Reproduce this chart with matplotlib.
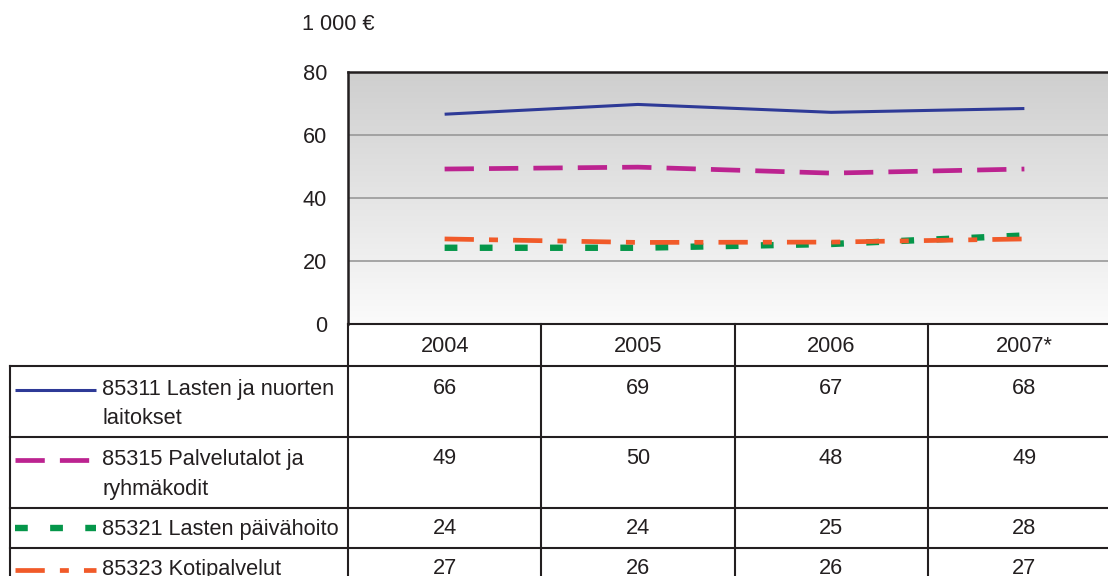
import numpy as np
import matplotlib
matplotlib.use("Agg")
import matplotlib.pyplot as plt
from matplotlib.lines import Line2D

# ---- data ----
years = ["2004", "2005", "2006", "2007*"]
series_names = ["85311 Lasten ja nuorten\nlaitokset",
                "85315 Palvelutalot ja\nryhmäkodit",
                "85321 Lasten päivähoito",
                "85323 Kotipalvelut"]
# plotted (unrounded)
lasten_laitokset = [66.6, 69.7, 67.2, 68.4]
palvelutalot = [49.2, 49.8, 47.9, 49.2]
paivahoito = [24.2, 24.2, 25.4, 28.1]
kotipalvelut = [27.0, 25.9, 26.0, 27.0]
# table values (rounded, as printed)
table_laitokset = [66, 69, 67, 68]
table_palvelutalot = [49, 50, 48, 49]
table_paivahoito = [24, 24, 25, 28]
table_kotipalvelut = [27, 26, 26, 27]
yticks = [0, 20, 40, 60, 80]
unit_label = "1 000 €"

plt.rcParams['font.family'] = ['Liberation Sans', 'DejaVu Sans']
FS = 15.7

W, H = 1108, 576
fig = plt.figure(figsize=(W / 100, H / 100), dpi=100)

# axes geometry in pixels
L, R, T, B = 348, 1121, 72, 324
ax = fig.add_axes([L / W, (H - B) / H, (R - L) / W, (B - T) / H])
x = np.arange(len(years))

# gradient background: light at bottom, grey at top
g = np.linspace(0, 1, 256).reshape(-1, 1, 1)  # 0 = bottom, 1 = top
top = np.array([0.81, 0.81, 0.81])
bot = np.array([0.985, 0.985, 0.985])
img = bot[None, None, :] * (1 - g) + top[None, None, :] * g
ax.imshow(img, extent=(-0.5, len(years) - 0.5, 0, 80), aspect='auto', zorder=0,
          origin='lower')
ax.set_xlim(-0.5, len(years) - 0.5)
ax.set_ylim(0, 80)

for yv in yticks[1:-1]:
    ax.axhline(yv, color='#999999', lw=1.2, zorder=1)

colors = ['#2E3A97', '#BC2390', '#05964A', '#F15A29']
styles = ['-', (0, (6.2, 3.2)), (0, (2.0, 3.5)), (0, (6.2, 3.2, 1.9, 3.2))]
widths = [2.2, 3.4, 4.6, 3.4]
data = [lasten_laitokset, palvelutalot, paivahoito, kotipalvelut]
for d, c, s, w in zip(data, colors, styles, widths):
    ax.plot(x, d, color=c, linestyle=s, lw=w, dash_capstyle='butt',
            solid_capstyle='butt', zorder=3)

ax.set_yticks(yticks)
ax.set_yticklabels([str(v) for v in yticks], fontsize=FS, color='#231f20')
ax.tick_params(axis='y', length=0, pad=15)
ax.set_xticks([])
for sp in ['left', 'top']:
    ax.spines[sp].set_linewidth(1.8)
    ax.spines[sp].set_color('#231f20')
ax.spines['right'].set_visible(False)
ax.spines['bottom'].set_visible(False)

fig.text(302 / W, 1 - 25 / H, unit_label, fontsize=FS, ha='left', va='center',
         color='#231f20')

# ---- table overlay in pixel coordinates ----
tab = fig.add_axes([0, 0, 1, 1], zorder=5)
tab.set_xlim(0, W)
tab.set_ylim(H, 0)
tab.axis('off')
lc = '#231f20'
lw_t = 1.5
col_w = (R - L) / len(years)
col_edges = [L + i * col_w for i in range(len(years) + 1)]
row_edges = [B, 366, 437, 508, 548, 600]

tab.plot([L, R], [B, B], color=lc, lw=lw_t)
for yv in row_edges[1:5]:
    tab.plot([10, R], [yv, yv], color=lc, lw=lw_t)
for xv in col_edges:
    tab.plot([xv, xv], [B, H], color=lc, lw=lw_t)
tab.plot([10, 10], [366, H], color=lc, lw=lw_t)

for i, yr in enumerate(years):
    tab.text(L + (i + 0.5) * col_w, 346, yr, fontsize=FS, ha='center', va='center',
             color=lc)

tables = [table_laitokset, table_palvelutalot, table_paivahoito, table_kotipalvelut]
val_y = [388, 459, 528, 568]
legend_y = [390, 460, 528, 570]
for r in range(4):
    for i in range(len(years)):
        tab.text(L + (i + 0.5) * col_w, val_y[r], str(tables[r][i]), fontsize=FS,
                 ha='center', va='center', color=lc)
    lines = series_names[r].split("\n")
    for k, t in enumerate(lines):
        tab.text(102, val_y[r] + 1 + 30 * k, t, fontsize=FS, ha='left', va='center',
                 color=lc)
    tab.add_line(Line2D([15, 96], [legend_y[r], legend_y[r]], color=colors[r],
                        linestyle=styles[r], lw=widths[r], dash_capstyle='butt',
                        solid_capstyle='butt'))

fig.savefig("out.png", dpi=100)
